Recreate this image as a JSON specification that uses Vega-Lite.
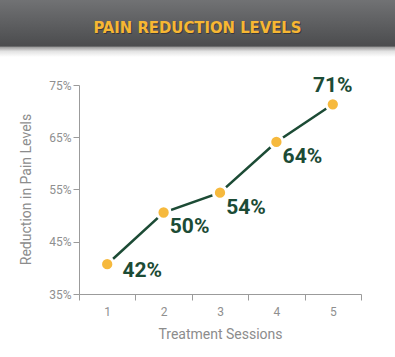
{
  "$schema": "https://vega.github.io/schema/vega-lite/v6.json",
  "padding": 0,
  "background": "white",
  "spacing": 18,
  "config": {"view": {"stroke": null}},
  "datasets": {
    "header": [{"title": "PAIN REDUCTION LEVELS"}],
    "ytitle": [{"title": "Reduction in Pain Levels"}],
    "pain": [
      {"session": 1, "reduction": 0.407, "label": "42%"},
      {"session": 2, "reduction": 0.506, "label": "50%"},
      {"session": 3, "reduction": 0.544, "label": "54%"},
      {"session": 4, "reduction": 0.641, "label": "64%"},
      {"session": 5, "reduction": 0.713, "label": "71%"}
    ]
  },
  "vconcat": [
    {
      "width": 395,
      "height": 57,
      "view": {
        "stroke": null,
        "fill": {
          "gradient": "linear",
          "x1": 0, "y1": 0, "x2": 0, "y2": 1,
          "stops": [
            {"offset": 0, "color": "#717274"},
            {"offset": 0.81, "color": "#4b4c4e"},
            {"offset": 0.825, "color": "#9a9a9a"},
            {"offset": 0.9, "color": "#e2e2e2"},
            {"offset": 1, "color": "#ffffff"}
          ]
        }
      },
      "data": {"name": "header"},
      "layer": [
        {
          "mark": {"type": "text", "font": "DejaVu Sans Condensed", "fontWeight": "bold", "fontSize": 16.5, "color": "#1e1e1e", "opacity": 0.5, "dx": 0.8, "dy": 0.3, "baseline": "middle", "align": "center"},
          "encoding": {"text": {"field": "title"}}
        },
        {
          "mark": {"type": "text", "font": "DejaVu Sans Condensed", "fontWeight": "bold", "fontSize": 16.5, "color": "#f7b733", "dy": -0.5, "baseline": "middle", "align": "center"},
          "encoding": {"text": {"field": "title"}}
        }
      ]
    },
    {
      "spacing": 8,
      "hconcat": [
        {
          "width": 40,
          "height": 209,
          "data": {"name": "ytitle"},
          "mark": {"type": "text", "angle": 270, "baseline": "top", "align": "center", "font": "Roboto", "fontSize": 14, "color": "#8c8c8c", "dy": 0},
          "encoding": {"text": {"field": "title"}}
        },
        {
          "width": 282,
          "height": 209,
          "data": {"name": "pain"},
          "encoding": {
            "x": {
              "field": "session", "type": "ordinal",
              "scale": {"type": "band", "paddingInner": 0, "paddingOuter": 0},
              "axis": {
                "title": "Treatment Sessions", "labelAngle": 0, "tickBand": "extent",
                "domainColor": "#9b9b9b", "tickColor": "#9b9b9b", "tickSize": 6,
                "labelColor": "#8f8f8f", "labelFont": "Roboto", "labelFontSize": 12, "labelPadding": 6,
                "titleColor": "#8c8c8c", "titleFont": "Roboto", "titleFontSize": 14, "titleFontWeight": "normal", "titlePadding": 10
              }
            },
            "y": {
              "field": "reduction", "type": "quantitative",
              "scale": {"domain": [0.35, 0.75], "nice": false, "zero": false},
              "axis": {
                "title": null, "values": [0.35, 0.45, 0.55, 0.65, 0.75], "format": ".0%", "grid": false,
                "domainColor": "#9b9b9b", "tickColor": "#9b9b9b", "tickSize": 6,
                "labelColor": "#8f8f8f", "labelFont": "Roboto", "labelFontSize": 12, "labelPadding": 2
              }
            }
          },
          "layer": [
            {"mark": {"type": "line", "color": "#1c4b35", "strokeWidth": 2.5}},
            {"mark": {"type": "point", "filled": true, "size": 177, "fill": "#f6b93d", "stroke": "white", "strokeWidth": 3, "opacity": 1}},
            {
              "transform": [{"filter": "datum.session == 1"}],
              "mark": {"type": "text", "font": "Roboto", "fontWeight": "bold", "fontSize": 21, "color": "#1c4b35", "dx": 35, "dy": 7, "baseline": "middle"},
              "encoding": {"text": {"field": "label"}}
            },
            {
              "transform": [{"filter": "datum.session >= 2 && datum.session <= 4"}],
              "mark": {"type": "text", "font": "Roboto", "fontWeight": "bold", "fontSize": 21, "color": "#1c4b35", "dx": 26, "dy": 15, "baseline": "middle"},
              "encoding": {"text": {"field": "label"}}
            },
            {
              "transform": [{"filter": "datum.session == 5"}],
              "mark": {"type": "text", "font": "Roboto", "fontWeight": "bold", "fontSize": 21, "color": "#1c4b35", "dx": 0, "dy": -18, "baseline": "middle"},
              "encoding": {"text": {"field": "label"}}
            }
          ]
        }
      ]
    }
  ]
}
